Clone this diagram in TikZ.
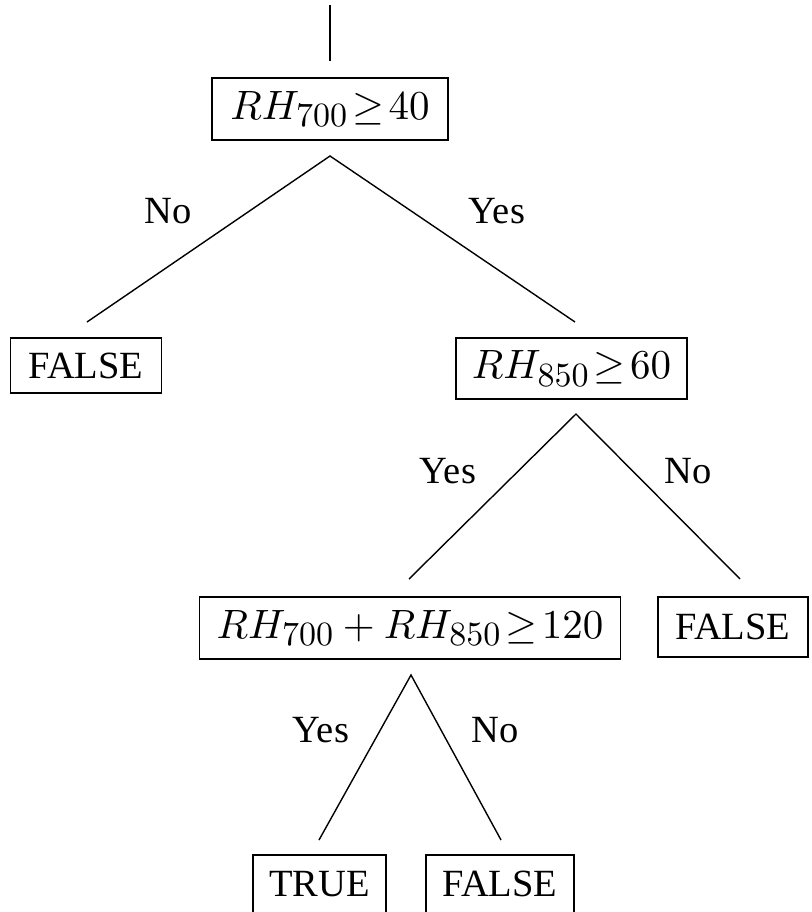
\documentclass[tikz,border=0pt]{standalone}
\usepackage[no-math]{fontspec}
\setmainfont{Liberation Serif}
\DeclareFontShape{OT1}{cmr}{m}{n}{<->cmr10}{}
\DeclareFontShape{OML}{cmm}{m}{it}{<->cmmi10}{}
\DeclareFontShape{OMS}{cmsy}{m}{n}{<->cmsy10}{}
\DeclareFontShape{OMX}{cmex}{m}{n}{<->cmex10}{}
\DeclareMathSizes{41}{41}{34}{28}
\newcommand{\tightrel}{\thickmuskip=2mu\relax}
\begin{document}
\begin{tikzpicture}[x=1pt,y=-1pt,
  box/.style={draw, line width=1.8pt, inner sep=0pt, font=\fontsize{38.5}{42}\selectfont},
  mbox/.style={box, font=\fontsize{41}{48}\selectfont},
  lbl/.style={inner sep=0pt, font=\fontsize{38.5}{42}\selectfont},
  edge/.style={line width=1.4pt}]
\useasboundingbox (0,0) rectangle (811,912);
% boxes
\node[mbox, minimum width=236, minimum height=62] (n1) at (330,109) {\tightrel$RH_{700} \geq 40$};
\node[box, minimum width=151, minimum height=55] (f1) at (86,365.5) {FALSE};
\node[mbox, minimum width=231, minimum height=61] (n2) at (571.5,368.5) {\tightrel$RH_{850} \geq 60$};
\node[mbox, minimum width=421, minimum height=62] (n3) at (410,628) {\tightrel$RH_{700} + RH_{850} \geq 120$};
\node[box, minimum width=150, minimum height=60] (f2) at (733,627) {FALSE};
\node[box, minimum width=133, minimum height=58] (t) at (319.5,884) {TRUE};
\node[box, minimum width=148, minimum height=58] (f3) at (500,884) {FALSE};
% connector end points
\coordinate (root) at (330,5);
\coordinate (rootend) at (330,61);
\coordinate (a1) at (330,156);
\coordinate (a1l) at (87,322);
\coordinate (a1r) at (575,322);
\coordinate (a2) at (576,414);
\coordinate (a2l) at (409,579);
\coordinate (a2r) at (740,579);
\coordinate (a3) at (411,675);
\coordinate (a3l) at (319,840);
\coordinate (a3r) at (501,840);
% connectors
\draw[edge] (root) -- (rootend);
\draw[edge] (a1l) -- (a1) -- (a1r);
\draw[edge] (a2l) -- (a2) -- (a2r);
\draw[edge] (a3l) -- (a3) -- (a3r);
% labels
\node[lbl] (l1) at (168,211) {No};
\node[lbl] (l2) at (497,211) {Yes};
\node[lbl] (l3) at (448,471) {Yes};
\node[lbl] (l4) at (688,471) {No};
\node[lbl] (l5) at (321,730) {Yes};
\node[lbl] (l6) at (495,730) {No};
\end{tikzpicture}
\end{document}
